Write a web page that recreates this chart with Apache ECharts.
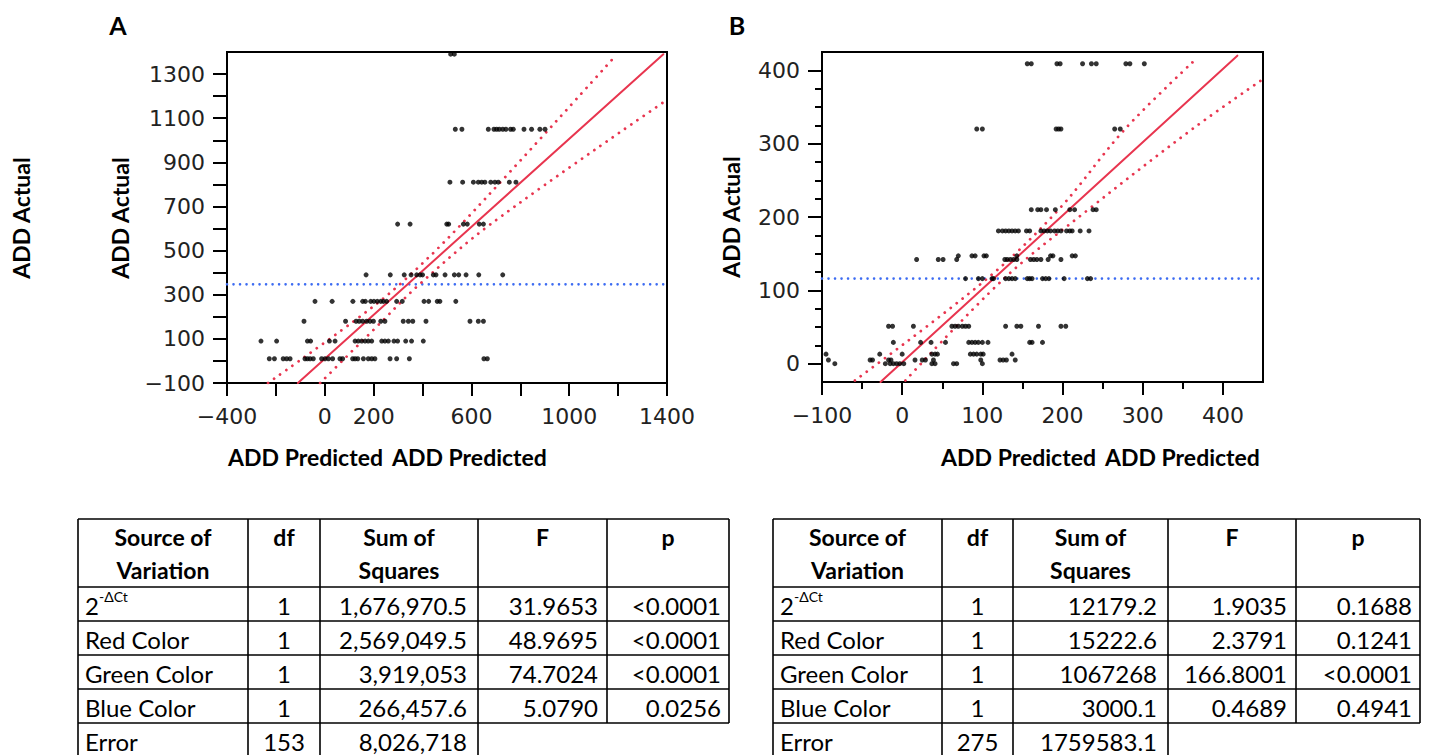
<!DOCTYPE html>
<html><head><meta charset="utf-8">
<script src="https://cdn.jsdelivr.net/npm/echarts@6/dist/echarts.min.js"></script>
<style>html,body{margin:0;padding:0;background:#fff}#c{width:1430px;height:755px}</style>
</head><body><div id="c"></div>
<script>
// ---------------- Panel A data (ADD Actual rows -> ADD Predicted values) ----------------
const aActual = [1390, 1050, 810, 620, 390, 270, 180, 90, 10];
const aPred = [
  [515, 530],
  [534, 561, 669, 692, 703, 714, 728, 741, 760, 771, 815, 846, 880, 901],
  [512, 564, 608, 628, 642, 655, 679, 696, 710, 755, 782],
  [298, 349, 499, 507, 567, 583, 632, 649],
  [169, 268, 325, 353, 376, 390, 400, 444, 455, 492, 530, 548, 578, 630, 728],
  [-40, 30, 115, 155, 166, 188, 201, 215, 229, 240, 253, 294, 317, 406, 425, 460, 471, 536],
  [-85, 85, 128, 141, 155, 171, 185, 199, 229, 246, 321, 342, 360, 414, 594, 628, 649],
  [-261, -197, -71, -58, 19, 42, 124, 137, 151, 165, 178, 192, 233, 246, 260, 283, 298, 331, 355, 403],
  [-227, -206, -170, -156, -142, -81, -71, -60, -47, -13, 1, 15, 32, 62, 73, 114, 124, 135, 158, 178, 192, 205, 267, 294, 346, 651, 665]
];
const fitA = [[-110, -100], [1385, 1390]];
const upperA = [[-232, -100], [115, 177], [307, 347], [560, 621], [1192, 1386]];
const lowerA = [[-19, -100], [232, 177], [387, 347], [680, 621], [1392, 1177]];
const meanA = 347;
const xTicksA = [-400, -200, 0, 200, 400, 600, 800, 1000, 1200, 1400];
const xLabelsA = [-400, 0, 200, 600, 1000, 1400];
const yTicksA = [-100, 0, 100, 200, 300, 400, 500, 600, 700, 800, 900, 1000, 1100, 1200, 1300];
const yLabelsA = [-100, 100, 300, 500, 700, 900, 1100, 1300];

// ---------------- Panel B data ----------------
const bActual = [409, 320, 210, 181, 147, 142, 116, 51, 29, 13, 5, 0];
const bPred = [
  [156, 161, 193, 197, 225, 236, 242, 279, 284, 302],
  [93, 100, 192, 195, 198, 265, 272],
  [161, 169, 173, 180, 191, 209, 215, 238, 242],
  [120, 125, 129, 133, 137, 141, 145, 155, 159, 173, 177, 181, 185, 190, 194, 198, 205, 209, 212, 222, 233],
  [70, 87, 91, 102, 105, 143, 185, 188, 212, 216],
  [18, 45, 51, 68, 128, 131, 135, 139, 143, 160, 164, 168, 173, 182, 198],
  [79, 95, 100, 112, 114, 129, 133, 137, 141, 156, 159, 162, 175, 179, 183, 202, 231, 235],
  [-17, -12, 14, 62, 66, 70, 75, 79, 83, 129, 143, 148, 170, 198, 204],
  [-11, 23, 36, 54, 83, 87, 91, 95, 100, 107, 159, 162, 175],
  [-95, -28, 0, 37, 41, 44, 85, 89, 93, 98, 101, 137],
  [-92, -40, -37, -17, -14, 16, 25, 29, 39, 98, 122, 126, 130, 141],
  [-84, -21, -15, -11, -7, -3, 2, 37, 41, 64, 68, 100]
];
const fitB = [[-27, -25], [418, 420]];
const upperB = [[-59, -23], [106, 116], [195, 210], [278, 320], [368, 417]];
const lowerB = [[4, -23], [127, 116], [232, 210], [362, 320], [450, 388]];
const meanB = 116;
const xTicksB = [-100, 0, 100, 200, 300, 400];
const xMinorB = [-50, 50, 150, 250, 350];
const yTicksB = [0, 100, 200, 300, 400];
const yMinorB = [25, 50, 75, 125, 150, 175, 225, 250, 275, 325, 350, 375];

// ---------------- Tables ----------------
const tableHead = [['Source of', 'Variation'], ['df'], ['Sum of', 'Squares'], ['F'], ['p']];
const sources = ['2', 'Red Color', 'Green Color', 'Blue Color', 'Error'];
const dfA = ['1', '1', '1', '1', '153'];
const ssA = ['1,676,970.5', '2,569,049.5', '3,919,053', '266,457.6', '8,026,718'];
const fA = ['31.9653', '48.9695', '74.7024', '5.0790', ''];
const pA = ['<0.0001', '<0.0001', '<0.0001', '0.0256', ''];
const dfB = ['1', '1', '1', '1', '275'];
const ssB = ['12179.2', '15222.6', '1067268', '3000.1', '1759583.1'];
const fB = ['1.9035', '2.3791', '166.8001', '0.4689', ''];
const pB = ['0.1688', '0.1241', '<0.0001', '0.4941', ''];

// ---------------- helpers ----------------
function rowsToPoints(ys, xs) {
  const out = [];
  ys.forEach((y, i) => xs[i].forEach(x => out.push([x, y])));
  return out;
}
const minus = v => (v < 0 ? '\u2212' + Math.abs(v) : String(v));
const RED = '#e8354f', BLUE = '#3d6cf2';
const tickLbl = { fontFamily: 'DejaVu Sans', fontSize: 22, color: '#222' };
const black2 = { color: '#000', width: 2 };

function valAxis(grid, min, max, interval, ticks, labels, len, showLine) {
  return {
    type: 'value', gridIndex: grid, min: min, max: max, interval: interval,
    axisLine: { show: showLine, onZero: false, lineStyle: black2 },
    axisTick: { show: true, customValues: ticks, length: len, inside: false, lineStyle: black2 },
    axisLabel: labels ? Object.assign({
      customValues: labels, margin: 22,
      formatter: v => (labels.indexOf(v) >= 0 ? minus(v) : '')
    }, tickLbl) : { show: false },
    splitLine: { show: false }, minorTick: { show: false }
  };
}

function lineSeries(ax, data, color, type, width, smooth) {
  return {
    type: 'line', xAxisIndex: ax[0], yAxisIndex: ax[1], data: data, showSymbol: false, symbol: 'none',
    smooth: smooth ? 0.35 : false, silent: true, z: 3, clip: true,
    lineStyle: { color: color, width: width, type: type, cap: 'round' }
  };
}

// ---------------- graphics: titles, letters, tables ----------------
const gfx = [];
function txt(x, y, text, font, align, vAlign, rot, fill) {
  gfx.push({
    type: 'text', x: x, y: y, rotation: rot || 0, silent: true,
    style: { text: text, font: font, fill: fill || '#000', textAlign: align || 'left', textVerticalAlign: vAlign || 'middle' }
  });
}
function ln(x1, y1, x2, y2) {
  gfx.push({ type: 'line', silent: true, shape: { x1: x1, y1: y1, x2: x2, y2: y2 }, style: { stroke: '#000', lineWidth: 1.6 } });
}
const titleFont = 'bold 23px Lato';
txt(21, 218, 'ADD Actual', titleFont, 'center', 'middle', Math.PI / 2);
txt(120, 218, 'ADD Actual', titleFont, 'center', 'middle', Math.PI / 2);
txt(731, 217, 'ADD Actual', titleFont, 'center', 'middle', Math.PI / 2);
// the two x-axis titles of each panel sit side by side around the reference's centre
txt(383, 457, 'ADD Predicted', titleFont, 'right');
txt(392, 457, 'ADD Predicted', titleFont, 'left');
txt(1096, 457, 'ADD Predicted', titleFont, 'right');
txt(1105, 457, 'ADD Predicted', titleFont, 'left');
txt(118, 25, 'A', 'bold 25px Lato', 'center');
txt(737, 25, 'B', 'bold 25px Lato', 'center');

function table(colX, df, ss, f, p) {
  const top = 519, headBot = 587, rowH = 34, nRows = 5, bottom = 760;
  const cellFont = '24px Lato', headFont = 'bold 23px Lato';
  ln(colX[0], top, colX[5], top);
  for (let i = 0; i < nRows; i++) ln(colX[0], headBot + i * rowH, colX[5], headBot + i * rowH);
  for (let c = 0; c <= 5; c++) ln(colX[c], top, colX[c], c <= 3 ? bottom : headBot + (nRows - 1) * rowH);
  tableHead.forEach((lines, c) => {
    const cx = (colX[c] + colX[c + 1]) / 2;
    lines.forEach((t, k) => txt(cx, 537 + k * 33, t, headFont, 'center'));
  });
  for (let r = 0; r < nRows; r++) {
    const cy = headBot + r * rowH + 18;
    txt(colX[0] + 7, cy, sources[r], cellFont, 'left');
    if (r === 0) txt(colX[0] + 21, cy - 9, '-\u0394Ct', '14px Lato', 'left');
    txt((colX[1] + colX[2]) / 2, cy, df[r], cellFont, 'center');
    txt(colX[3] - 11, cy, ss[r], cellFont, 'right');
    if (f[r]) txt(colX[4] - 9, cy, f[r], cellFont, 'right');
    if (p[r]) txt(colX[5] - 8, cy, p[r], cellFont, 'right');
  }
}
table([78, 248, 320, 478, 607, 729], dfA, ssA, fA, pA);
table([773, 942, 1013, 1168, 1296, 1420], dfB, ssB, fB, pB);

// ---------------- chart ----------------
const chart = echarts.init(document.getElementById('c'), null, { renderer: 'svg', width: 1430, height: 755 });
const redDots = [0.01, 7.5], blueDots = [0.01, 6.5];
chart.setOption({
  animation: false,
  backgroundColor: '#fff',
  grid: [
    { left: 227, top: 52, width: 440, height: 331, show: true, borderColor: '#000', borderWidth: 2, backgroundColor: 'transparent' },
    { left: 822, top: 52, width: 441, height: 330, show: true, borderColor: '#000', borderWidth: 2, backgroundColor: 'transparent' }
  ],
  xAxis: [
    valAxis(0, -400, 1400, 200, xTicksA, xLabelsA, 13, true),
    valAxis(1, -100, 450, 50, xTicksB, xTicksB, 13, true),
    Object.assign(valAxis(1, -100, 450, 50, xMinorB, null, 7, false), { position: 'bottom', offset: 0 })
  ],
  yAxis: [
    valAxis(0, -100, 1400, 100, yTicksA, yLabelsA, 14, true),
    valAxis(1, -25, 425, 25, yTicksB, yTicksB, 14, true),
    Object.assign(valAxis(1, -25, 425, 25, yMinorB, null, 7, false), { position: 'left', offset: 0 })
  ],
  series: [
    lineSeries([0, 0], [[-400, meanA], [1400, meanA]], BLUE, blueDots, 2.6, false),
    lineSeries([0, 0], fitA, RED, 'solid', 2, false),
    lineSeries([0, 0], upperA, RED, redDots, 2.8, true),
    lineSeries([0, 0], lowerA, RED, redDots, 2.8, true),
    { type: 'scatter', xAxisIndex: 0, yAxisIndex: 0, data: rowsToPoints(aActual, aPred), symbolSize: 5,
      itemStyle: { color: '#000' }, silent: true, z: 5 },
    lineSeries([1, 1], [[-100, meanB], [450, meanB]], BLUE, blueDots, 2.6, false),
    lineSeries([1, 1], fitB, RED, 'solid', 2, false),
    lineSeries([1, 1], upperB, RED, redDots, 2.8, true),
    lineSeries([1, 1], lowerB, RED, redDots, 2.8, true),
    { type: 'scatter', xAxisIndex: 1, yAxisIndex: 1, data: rowsToPoints(bActual, bPred), symbolSize: 5,
      itemStyle: { color: '#000' }, silent: true, z: 5 }
  ],
  graphic: gfx
});
</script></body></html>
